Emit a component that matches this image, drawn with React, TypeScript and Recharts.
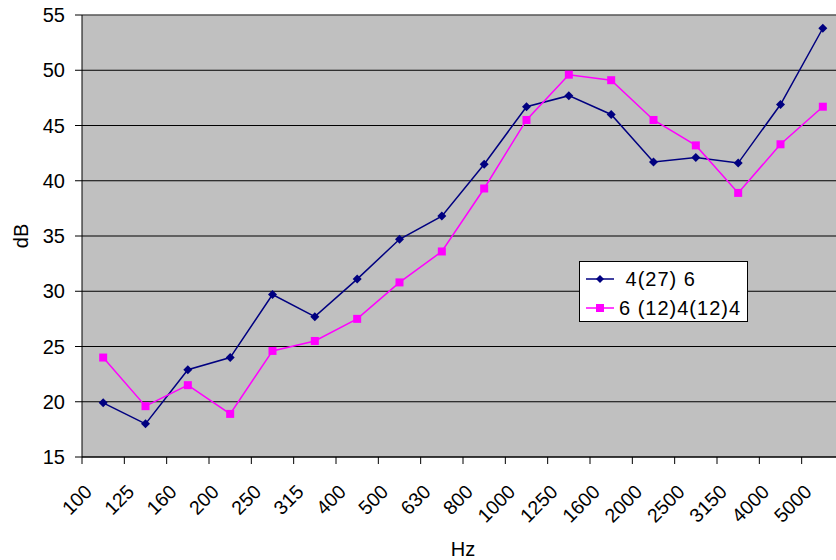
import React from 'react';
import { LineChart, Line, XAxis, YAxis, CartesianGrid, Label, ReferenceLine } from 'recharts';

// third-octave bands, Hz
const bands = ['100', '125', '160', '200', '250', '315', '400', '500', '630', '800', '1000', '1250', '1600', '2000', '2500', '3150', '4000', '5000'];

const glazingA = [19.9, 18.0, 22.9, 24.0, 29.7, 27.7, 31.1, 34.7, 36.8, 41.5, 46.7, 47.7, 46.0, 41.7, 42.1, 41.6, 46.9, 53.8];
const glazingB = [24.0, 19.6, 21.5, 18.9, 24.6, 25.5, 27.5, 30.8, 33.6, 39.3, 45.5, 49.6, 49.1, 45.5, 43.2, 38.9, 43.3, 46.7];

const seriesNames = [' 4(27) 6', '6 (12)4(12)4'];

const yTicks = [15, 20, 25, 30, 35, 40, 45, 50, 55];

const data = bands.map((hz, i) => ({ hz, a: glazingA[i], b: glazingB[i] }));

const CHART_W = 846;
const CHART_H = 560;
const Y_AXIS_W = 82;
const MARGIN = { top: 15, right: 2, bottom: 0, left: 0 };
const PLOT_W = CHART_W - MARGIN.left - MARGIN.right - Y_AXIS_W;
const BAND = PLOT_W / bands.length;

const FONT = '"Liberation Sans", Arial, sans-serif';
const NAVY = '#000080';
const MAGENTA = '#FF00FF';

const Diamond = (props: any) => {
  const { cx, cy } = props;
  if (cx == null || cy == null) return null;
  const r = 4.5;
  return <path d={`M${cx},${cy - r}L${cx + r},${cy}L${cx},${cy + r}L${cx - r},${cy}Z`} fill={NAVY} stroke="none" />;
};

const Square = (props: any) => {
  const { cx, cy } = props;
  if (cx == null || cy == null) return null;
  const s = 8;
  return <rect x={cx - s / 2} y={cy - s / 2} width={s} height={s} fill={MAGENTA} stroke="none" />;
};

// labels sit slightly left of the band centre, tick marks on band edges
const BandTick = (props: any) => {
  const { x, y, payload } = props;
  const edge = x - BAND / 2;
  const tx = x - 10;
  const ty = y + 29;
  return (
    <g>
      <line x1={edge} y1={y - 7} x2={edge} y2={y} stroke="#000" strokeWidth={1} />
      <text x={tx} y={ty} transform={`rotate(-45, ${tx}, ${ty})`} textAnchor="end" fontSize={19.5} fontFamily={FONT} fill="#000">
        {payload.value}
      </text>
    </g>
  );
};

const LegendBox = () => (
  <div
    style={{
      position: 'absolute',
      left: 579,
      top: 261,
      width: 167,
      height: 59,
      background: '#fff',
      border: '1px solid #000',
      fontFamily: FONT,
      fontSize: 20,
      letterSpacing: 1,
      lineHeight: '20px',
      color: '#000',
    }}
  >
    {[
      { name: seriesNames[0], color: NAVY, shape: 'diamond' },
      { name: seriesNames[1], color: MAGENTA, shape: 'square' },
    ].map((item, i) => (
      <div key={i} style={{ display: 'flex', alignItems: 'center', height: 31, marginTop: i === 0 ? 1 : -2 }}>
        <svg width={28} height={12} style={{ marginLeft: 6, flex: 'none' }}>
          <line x1={0} y1={6} x2={28} y2={6} stroke={item.color} strokeWidth={1.5} />
          {item.shape === 'diamond' ? (
            <path d="M14,2L18,6L14,10L10,6Z" fill={item.color} />
          ) : (
            <rect x={10} y={2} width={8} height={8} fill={item.color} />
          )}
        </svg>
        <span style={{ whiteSpace: 'pre', marginLeft: 5 }}>{item.name}</span>
      </div>
    ))}
  </div>
);

export default function App() {
  return (
    <div style={{ position: 'absolute', left: 0, top: 0, width: 836, height: 560, overflow: 'hidden', background: '#fff' }}>
      <LineChart width={CHART_W} height={CHART_H} data={data} margin={MARGIN}>
        <CartesianGrid vertical={false} stroke="#000" fill="#C0C0C0" fillOpacity={1} />
        <ReferenceLine y={55} stroke="#808080" strokeWidth={1} />
        <XAxis
          dataKey="hz"
          height={103}
          padding={{ left: BAND / 2, right: BAND / 2 }}
          interval={0}
          tickLine={false}
          tickSize={7}
          tickMargin={0}
          axisLine={{ stroke: '#000' }}
          tick={<BandTick />}
        >
          <Label
            content={() => (
              <text x={463} y={556} textAnchor="middle" fontSize={20} fontFamily={FONT} fill="#000">
                Hz
              </text>
            )}
          />
        </XAxis>
        <YAxis
          width={Y_AXIS_W}
          domain={[15, 55]}
          ticks={yTicks}
          interval={0}
          tickSize={7}
          tickMargin={10}
          axisLine={{ stroke: '#000' }}
          tickLine={{ stroke: '#000' }}
          tick={{ fontSize: 20, fontFamily: FONT, fill: '#000' }}
        >
          <Label
            content={() => (
              <text x={28} y={236} transform="rotate(-90, 28, 236)" textAnchor="middle" fontSize={20} fontFamily={FONT} fill="#000">
                dB
              </text>
            )}
          />
        </YAxis>
        <Line dataKey="a" name={seriesNames[0]} stroke={NAVY} strokeWidth={1.5} dot={<Diamond />} isAnimationActive={false} />
        <Line dataKey="b" name={seriesNames[1]} stroke={MAGENTA} strokeWidth={1.5} dot={<Square />} isAnimationActive={false} />
      </LineChart>
      <LegendBox />
    </div>
  );
}
